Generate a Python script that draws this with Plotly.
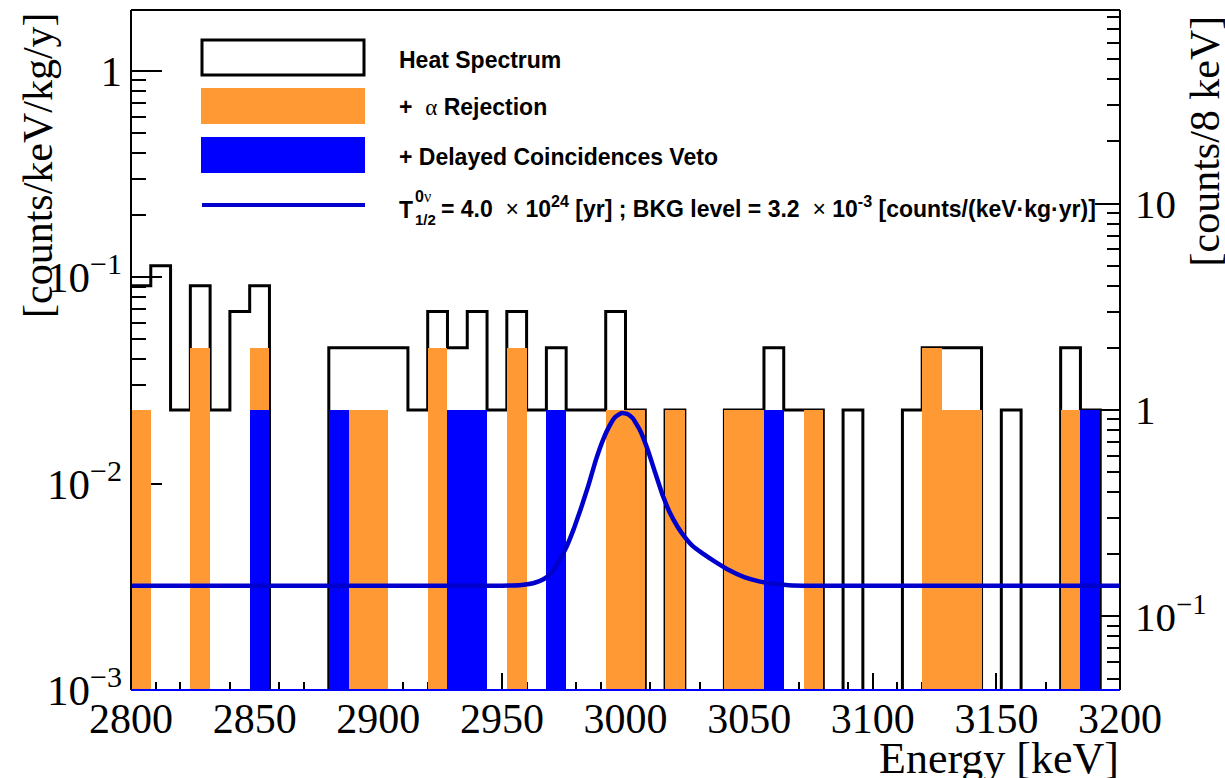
import numpy as np
import plotly.graph_objects as go

# ---------------- data ----------------
bin_lo = 2800          # keV
bin_width = 8          # keV
heat_counts = [4, 5, 1, 4, 1, 3, 4, 0, 0, 0,
               2, 2, 2, 2, 1, 3, 2, 3, 1, 3,
               1, 2, 1, 1, 3, 1, 0, 1, 0, 0,
               1, 1, 2, 1, 1, 0, 1, 0, 0, 1,
               2, 2, 2, 0, 1, 0, 0, 2, 1, 0]
alpha_counts = [1, 0, 0, 2, 0, 0, 2, 0, 0, 0,
                1, 1, 1, 0, 0, 2, 1, 1, 0, 2,
                0, 1, 0, 0, 1, 1, 0, 1, 0, 0,
                1, 1, 1, 0, 1, 0, 0, 0, 0, 0,
                2, 1, 1, 0, 0, 0, 0, 1, 1, 0]
dc_counts = [0, 0, 0, 0, 0, 0, 1, 0, 0, 0,
             1, 0, 0, 0, 0, 0, 1, 1, 0, 0,
             0, 1, 0, 0, 0, 0, 0, 0, 0, 0,
             0, 0, 1, 0, 0, 0, 0, 0, 0, 0,
             0, 0, 0, 0, 0, 0, 0, 0, 1, 0]
rate_per_count = 0.02273   # counts/keV/kg/y for one count in an 8 keV bin

# signal + background model curve
curve_energy = [2800, 2900, 2950, 2958, 2963, 2967, 2970, 2973, 2976, 2979,
                2982, 2985, 2988, 2991, 2994, 2996, 2998.5, 3001, 3003, 3006,
                3009, 3012, 3015, 3018, 3021, 3024, 3027, 3031, 3036, 3042,
                3048, 3054, 3060, 3066, 3075, 3100, 3200]
curve_rate = [0.0032, 0.0032, 0.0032, 0.00323, 0.0033, 0.00345, 0.0037, 0.0042, 0.0049, 0.0060,
              0.0076, 0.0098, 0.0130, 0.0164, 0.0195, 0.0211, 0.0220, 0.0217, 0.0207, 0.0180,
              0.0146, 0.0113, 0.0088, 0.0072, 0.0062, 0.0055, 0.0050, 0.0046, 0.0042, 0.0038,
              0.00352, 0.00336, 0.00327, 0.00322, 0.0032, 0.0032, 0.0032]

left_ticks = [1e-3, 1e-2, 1e-1, 1]
left_ticktext = ["10<sup>\u22123</sup>", "10<sup>\u22122</sup>", "10<sup>\u22121</sup>", "1"]
right_ticks = [0.1, 1, 10]
right_ticktext = ["10<sup>\u22121</sup>", "1", "10"]
x_ticks = list(range(2800, 3201, 50))

# ---------------- derived ----------------
edges = bin_lo + bin_width * np.arange(len(heat_counts) + 1)
centers = edges[:-1] + bin_width / 2.0
floor = 1e-6
heat_rate = [c * rate_per_count if c > 0 else floor for c in heat_counts]
step_x = list(edges)
step_y = heat_rate + [heat_rate[-1]]

alpha_y = [c if c > 0 else None for c in alpha_counts]
dc_y = [c if c > 0 else None for c in dc_counts]

ylo, yhi = -3.0, 0.2946
shift = np.log10(rate_per_count)

def minor_vals(lo, hi):
    out = []
    for d in range(int(np.floor(lo)) - 1, int(np.ceil(hi)) + 1):
        for m in range(2, 10):
            v = m * 10.0 ** d
            if 10 ** lo < v < 10 ** hi:
                out.append(v)
    return out

SERIF = "Liberation Serif"
SANS = "Liberation Sans"
ORANGE = "#FF9933"
BLUE = "#0000FF"
LINEBLUE = "#0000CC"

fig = go.Figure()
fig.add_trace(go.Scatter(x=step_x, y=step_y, mode="lines", line=dict(color="black", width=3, shape="hv"),
                         xaxis="x", yaxis="y", showlegend=False, hoverinfo="skip"))
fig.add_trace(go.Bar(x=centers, y=alpha_y, width=bin_width, marker=dict(color=ORANGE, line=dict(width=0)),
                     xaxis="x", yaxis="y2", showlegend=False))
fig.add_trace(go.Bar(x=centers, y=dc_y, width=bin_width, marker=dict(color=BLUE, line=dict(width=0)),
                     xaxis="x", yaxis="y2", showlegend=False))
fig.add_trace(go.Scatter(x=curve_energy, y=curve_rate, mode="lines",
                         line=dict(color=LINEBLUE, width=4.5, shape="spline", smoothing=0.35),
                         xaxis="x", yaxis="y3", showlegend=False))

W, H = 1225, 778
L, R, T, B = 131, 1120, 10, 690

def px(x):
    return (x - L) / (R - L)

def py(y):
    return (B - y) / (B - T)

shapes = []
# frame
shapes.append(dict(type="line", xref="paper", yref="paper", x0=0, x1=1, y0=1, y1=1, line=dict(color="black", width=2)))
shapes.append(dict(type="line", xref="paper", yref="paper", x0=0, x1=0, y0=0, y1=1, line=dict(color="black", width=2)))
shapes.append(dict(type="line", xref="paper", yref="paper", x0=1, x1=1, y0=0, y1=1, line=dict(color="black", width=2)))
shapes.append(dict(type="line", xref="paper", yref="paper", x0=0, x1=1, y0=0, y1=0, line=dict(color=BLUE, width=2)))
# legend symbols
shapes.append(dict(type="rect", xref="paper", yref="paper", x0=px(202), x1=px(364), y0=py(75), y1=py(40),
                   line=dict(color="black", width=3), fillcolor="white"))
shapes.append(dict(type="rect", xref="paper", yref="paper", x0=px(201), x1=px(365), y0=py(124), y1=py(88),
                   line=dict(width=0), fillcolor=ORANGE))
shapes.append(dict(type="rect", xref="paper", yref="paper", x0=px(201), x1=px(365), y0=py(173), y1=py(137),
                   line=dict(width=0), fillcolor=BLUE))
shapes.append(dict(type="line", xref="paper", yref="paper", x0=px(202), x1=px(365), y0=py(205), y1=py(205),
                   line=dict(color=LINEBLUE, width=4)))

annotations = []
def ann(text, x, y, size=23, family=SANS, xanchor="left", yanchor="middle", angle=0):
    annotations.append(dict(text=text, xref="paper", yref="paper", x=px(x), y=py(y), showarrow=False,
                            xanchor=xanchor, yanchor=yanchor, textangle=angle,
                            font=dict(family=family, size=size, color="black")))

ann("<b>Heat Spectrum</b>", 397, 60)
ann("<b>+</b>  <span style=\"font-family:Liberation Serif\">\u03b1</span> <b>Rejection</b>", 397, 107)
ann("<b>+ Delayed Coincidences Veto</b>", 397, 157)
ann("<b>T</b>", 397, 210)
ann("<b>0</b><span style=\"font-family:Liberation Serif\">\u03bd</span>", 413, 196, size=16)
ann("<b>1/2</b>", 413, 219, size=15)
ann("<b>= 4.0</b>  \u00d7 <b>10<sup>24</sup> [yr] ; BKG level = 3.2</b>  \u00d7 <b>10<sup>-3</sup> [counts/(keV\u00b7kg\u00b7yr)]</b>",
    439, 207)
# axis titles
ann("[counts/keV/kg/y]", 38, 10, size=42, family=SERIF, xanchor="center", yanchor="top", angle=-90)
ann("[counts/8 keV]", 1204, 14, size=42, family=SERIF, xanchor="center", yanchor="top", angle=-90)
ann("Energy [keV]", 1121, 758, size=44, family=SERIF, xanchor="right", yanchor="middle")

fig.update_layout(
    width=W, height=H,
    margin=dict(l=L, r=W - R, t=T, b=H - B),
    paper_bgcolor="white", plot_bgcolor="white",
    barmode="overlay", bargap=0,
    showlegend=False,
    shapes=shapes, annotations=annotations,
    xaxis=dict(range=[2800, 3200], tickmode="array", tickvals=x_ticks, ticks="inside", ticklen=17, tickwidth=1.5,
               tickcolor="black", showline=False, showgrid=False, zeroline=False, layer="below traces",
               tickfont=dict(family=SERIF, size=42, color="black"), ticklabelstandoff=0,
               minor=dict(ticks="inside", ticklen=8, tickwidth=1.5, tickcolor="black", tick0=2800, dtick=10, showgrid=False)),
    yaxis=dict(type="log", range=[ylo, yhi], tickmode="array", tickvals=left_ticks, ticktext=left_ticktext,
               ticks="inside", ticklen=31, tickwidth=1.5, tickcolor="black", showline=False, showgrid=False,
               zeroline=False, layer="below traces", ticklabelstandoff=8,
               tickfont=dict(family=SERIF, size=43, color="black"),
               minor=dict(ticks="inside", ticklen=15, tickwidth=1.5, tickcolor="black", tickmode="array",
                          tickvals=minor_vals(ylo, yhi), showgrid=False)),
    yaxis2=dict(type="log", overlaying="y", side="right", range=[ylo - shift, yhi - shift], tickmode="array",
                tickvals=right_ticks, ticktext=right_ticktext, ticks="inside", ticklen=25, tickwidth=1.5,
                tickcolor="black", showline=False, showgrid=False, zeroline=False, layer="below traces",
                ticklabelstandoff=14, tickfont=dict(family=SERIF, size=41, color="black"),
                minor=dict(ticks="inside", ticklen=13, tickwidth=1.5, tickcolor="black", tickmode="array",
                           tickvals=minor_vals(ylo - shift, yhi - shift), showgrid=False)),
    yaxis3=dict(type="log", overlaying="y", range=[ylo, yhi], visible=False),
)

fig.write_html("out.html", config={"displayModeBar": False},
               post_script="document.body.style.margin='0px';document.body.style.padding='0px';"
                           "document.body.style.overflow='hidden';")
